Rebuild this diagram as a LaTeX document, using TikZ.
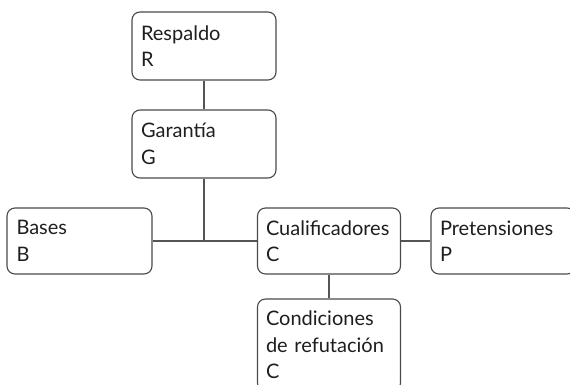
\documentclass[tikz,border=0pt]{standalone}
\usepackage{fontspec}
\setmainfont{Lato}
\definecolor{boxline}{HTML}{4A4A4A}
\definecolor{conn}{HTML}{555555}
\definecolor{txt}{HTML}{1E1E1E}
\begin{document}
\begin{tikzpicture}[x=1pt,y=1pt,
  box/.style={draw=boxline, line width=1.1pt, rounded corners=8pt,
    minimum width=144pt, minimum height=68pt, text width=126pt,
    align=left, inner xsep=8pt, inner ysep=0pt, text=txt,
    font=\fontsize{20}{26.5}\selectfont},
  conline/.style={draw=conn, line width=1.1pt}]
\useasboundingbox (0,0) rectangle (570,385);
\clip (0,0) rectangle (570,385);
\node[box] (R) at (204,339) {Respaldo\\R};
\node[box] (G) at (204,241) {Garantía\\G};
\node[box, minimum width=145pt, minimum height=66pt] (B) at (79.5,144) {Bases\\B};
\node[box, minimum width=143pt, minimum height=66pt] (Cu) at (329,144) {Cualificadores\\C};
\node[box, minimum height=66pt] (P) at (503,144) {Pretensiones\\P};
\node[box, minimum width=143pt, minimum height=92pt] (Co) at (329,40) {Condiciones\\de refutación\\C};
\coordinate (J) at (204,144);
\draw[conline] (R.south) -- (G.north);
\draw[conline] (G.south) -- (J);
\draw[conline] (B.east) -- (Cu.west);
\draw[conline] (Cu.east) -- (P.west);
\draw[conline] (Cu.south) -- (Co.north);
\end{tikzpicture}
\end{document}
